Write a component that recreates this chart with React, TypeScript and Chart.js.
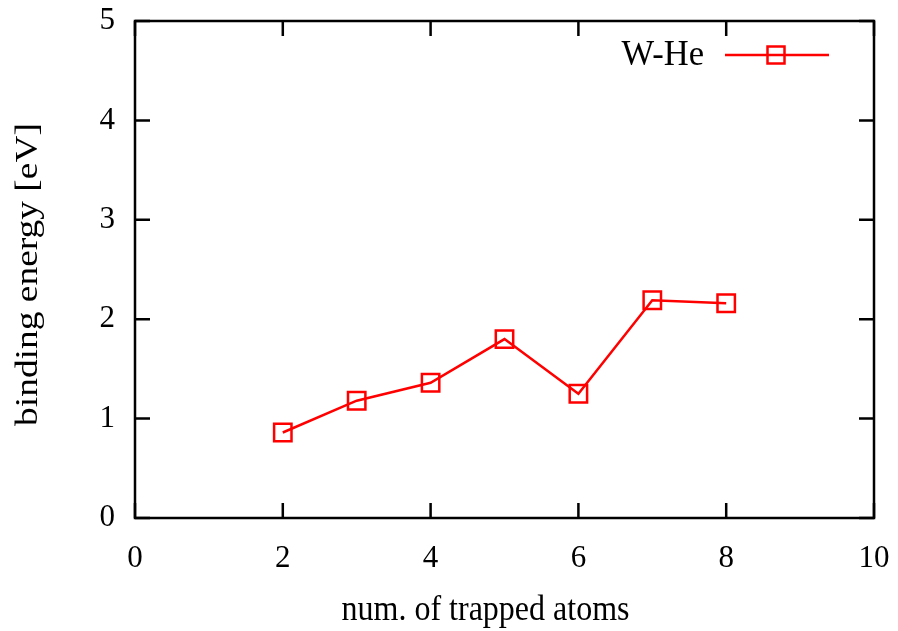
import { useEffect, useRef } from "react";
import { Chart, registerables } from "chart.js";

Chart.register(...registerables);

const atomCounts = [2, 3, 4, 5, 6, 7, 8];
const bindingEnergy = [0.86, 1.18, 1.36, 1.8, 1.25, 2.19, 2.16];
const seriesLabel = "W-He";
const xTickValues = [0, 2, 4, 6, 8, 10];
const yTickValues = [0, 1, 2, 3, 4, 5];
const xTitle = "num. of trapped atoms";
const yTitle = "binding energy [eV]";

const FONT = "'Liberation Serif', 'Times New Roman', serif";
const RED = "#ff0000";

const framePlugin = {
  id: "frame",
  beforeDatasetsDraw(chart: any) {
    const { ctx, chartArea, scales } = chart;
    const { left, right, top, bottom } = chartArea;
    const x = scales.x;
    const y = scales.y;
    ctx.save();
    ctx.strokeStyle = "#000";
    ctx.lineWidth = 2.5;
    ctx.strokeRect(left, top, right - left, bottom - top);
    const L = 15;
    ctx.beginPath();
    xTickValues.forEach((v) => {
      const px = x.getPixelForValue(v);
      ctx.moveTo(px, bottom);
      ctx.lineTo(px, bottom - L);
      ctx.moveTo(px, top);
      ctx.lineTo(px, top + L);
    });
    yTickValues.forEach((v) => {
      const py = y.getPixelForValue(v);
      ctx.moveTo(left, py);
      ctx.lineTo(left + L, py);
      ctx.moveTo(right, py);
      ctx.lineTo(right - L, py);
    });
    ctx.stroke();
    ctx.restore();
  },
};

const titlesPlugin = {
  id: "axisTitles",
  afterDraw(chart: any) {
    const { ctx, chartArea } = chart;
    const { left, right, top, bottom } = chartArea;
    ctx.save();
    ctx.fillStyle = "#000";
    ctx.textAlign = "center";
    ctx.textBaseline = "middle";
    // x title
    ctx.font = `32px ${FONT}`;
    ctx.save();
    ctx.translate((left + right) / 2 - 19, bottom + 93);
    ctx.scale(1, 1.12);
    ctx.fillText(xTitle, 0, 0);
    ctx.restore();
    // y title
    ctx.save();
    ctx.translate(left - 106, (top + bottom) / 2 + 5);
    ctx.rotate(-Math.PI / 2);
    ctx.scale(1.17, 1);
    ctx.font = `32px ${FONT}`;
    ctx.fillText(yTitle, 0, 0);
    ctx.restore();
    ctx.restore();
  },
};

const legendPlugin = {
  id: "customLegend",
  afterDraw(chart: any) {
    const { ctx, chartArea } = chart;
    const { right, top } = chartArea;
    const ds = chart.data.datasets[0];
    const cy = top + 34;
    ctx.save();
    ctx.fillStyle = "#000";
    ctx.textAlign = "right";
    ctx.textBaseline = "middle";
    ctx.translate(right - 170, cy + 1);
    ctx.scale(1.08, 1.12);
    ctx.font = `32px ${FONT}`;
    ctx.fillText(ds.label, 0, 0);
    ctx.restore();
    ctx.save();
    ctx.strokeStyle = RED;
    ctx.lineWidth = 2.5;
    ctx.beginPath();
    ctx.moveTo(right - 149, cy);
    ctx.lineTo(right - 45, cy);
    ctx.stroke();
    const s = 17;
    ctx.strokeRect(right - 98 - s / 2, cy - s / 2, s, s);
    ctx.restore();
  },
};

export default function App() {
  const ref = useRef<HTMLCanvasElement>(null);

  useEffect(() => {
    if (!ref.current) return;
    Chart.defaults.color = "#000";
    const chart = new Chart(ref.current, {
      type: "line",
      data: {
        datasets: [
          {
            label: seriesLabel,
            data: atomCounts.map((a, i) => ({ x: a, y: bindingEnergy[i] })),
            borderColor: RED,
            borderWidth: 2.5,
            pointStyle: "rect",
            pointRadius: 12.3,
            pointHoverRadius: 12.3,
            pointBorderWidth: 2.5,
            pointBackgroundColor: "rgba(0,0,0,0)",
            pointBorderColor: RED,
            tension: 0,
            fill: false,
          },
        ],
      },
      options: {
        animation: false,
        responsive: true,
        maintainAspectRatio: false,
        layout: { padding: { top: 21, right: 24, bottom: 0, left: 0 } },
        plugins: {
          legend: { display: false },
          tooltip: { enabled: false },
        },
        scales: {
          x: {
            type: "linear",
            min: 0,
            max: 10,
            afterFit: (s: any) => {
              s.height = 113;
              s.paddingLeft = 0;
              s.paddingRight = 0;
            },
            afterBuildTicks: (s: any) => {
              s.ticks = xTickValues.map((v) => ({ value: v }));
            },
            grid: { display: false },
            border: { display: false },
            ticks: {
              font: { family: FONT, size: 31 },
              color: "#000",
              padding: 14,
              maxRotation: 0,
            },
            title: { display: false },
          },
          y: {
            type: "linear",
            min: 0,
            max: 5,
            afterFit: (s: any) => {
              s.width = 135;
              s.paddingTop = 0;
              s.paddingBottom = 0;
            },
            afterBuildTicks: (s: any) => {
              s.ticks = yTickValues.map((v) => ({ value: v }));
            },
            grid: { display: false },
            border: { display: false },
            ticks: {
              font: { family: FONT, size: 31 },
              color: "#000",
              padding: 12,
            },
            title: { display: false },
          },
        },
      },
      plugins: [framePlugin, titlesPlugin, legendPlugin],
    });
    return () => chart.destroy();
  }, []);

  return (
    <div style={{ position: "absolute", left: 0, top: 0, width: 898, height: 631, background: "#fff" }}>
      <canvas ref={ref} />
    </div>
  );
}
